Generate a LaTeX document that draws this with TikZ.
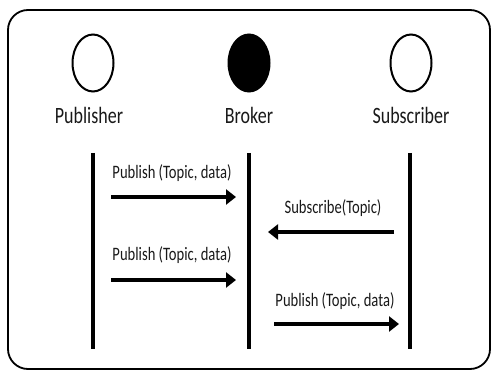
\documentclass[tikz,border=0pt]{standalone}
\usepackage{fontspec}
\setmainfont{Carlito}
\usetikzlibrary{arrows.meta,shapes.geometric}
\begin{document}
\begin{tikzpicture}[x=1pt,y=-1pt,
  actor/.style={draw=black,line width=2pt,ellipse,minimum width=41pt,minimum height=57pt,inner sep=0pt},
  actorlabel/.style={font=\fontsize{18}{18}\selectfont,yscale=1.3,text=black!90},
  lifeline/.style={line width=4pt},
  msg/.style={line width=4pt,-{Triangle[length=10pt,width=15pt]}},
  msglabel/.style={font=\fontsize{14.6}{14.6}\selectfont,yscale=1.3,text=black!90}]
\useasboundingbox (0,0) rectangle (492,371);
\draw[line width=1.8pt,rounded corners=20pt] (8,10) rectangle (490,369);
\node[actor] (pub) at (93,63) {};
\node[actor,fill=black] (bro) at (249,63) {};
\node[actor] (sub) at (411,63) {};
\node[actorlabel] (publ) at (89,115) {Publisher};
\node[actorlabel] (brol) at (249,115) {Broker};
\node[actorlabel] (subl) at (411,115) {Subscriber};
\coordinate (p1) at (93,153); \coordinate (p2) at (93,349);
\coordinate (b1) at (249,153); \coordinate (b2) at (249,349);
\coordinate (s1) at (410,153); \coordinate (s2) at (410,349);
\draw[lifeline] (p1) -- (p2);
\draw[lifeline] (b1) -- (b2);
\draw[lifeline] (s1) -- (s2);
\coordinate (a1s) at (111,197); \coordinate (a1e) at (236,197);
\coordinate (a2s) at (394,232); \coordinate (a2e) at (268,232);
\coordinate (a3s) at (111,280); \coordinate (a3e) at (236,280);
\coordinate (a4s) at (274,324); \coordinate (a4e) at (399,324);
\draw[msg] (a1s) -- (a1e);
\draw[msg] (a2s) -- (a2e);
\draw[msg] (a3s) -- (a3e);
\draw[msg] (a4s) -- (a4e);
\node[msglabel] (l1) at (172,173) {Publish (Topic, data)};
\node[msglabel] (l2) at (333,208) {Subscribe(Topic)};
\node[msglabel] (l3) at (172,255) {Publish (Topic, data)};
\node[msglabel] (l4) at (335,301) {Publish (Topic, data)};
\end{tikzpicture}
\end{document}
